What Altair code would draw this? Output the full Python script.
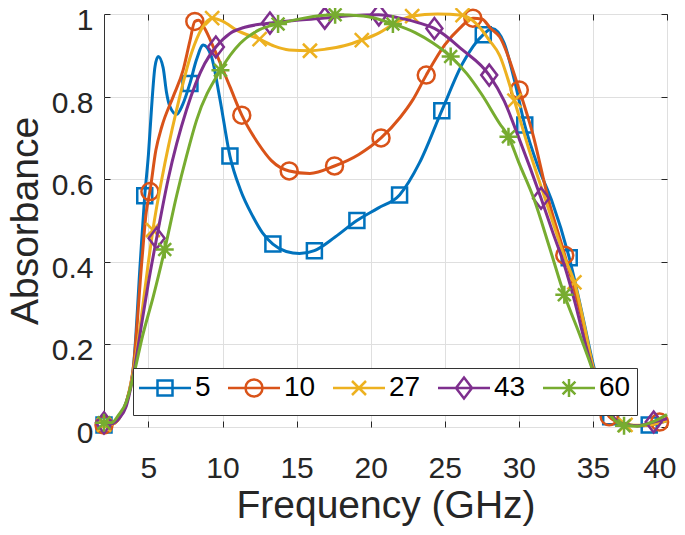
import altair as alt
import pandas as pd

# ---------------- data ----------------
series = ["5", "10", "27", "43", "60"]
colors = ["#0072BD", "#D95319", "#EDB120", "#7E2F8E", "#77AC30"]

# curve samples (frequency in GHz, absorbance)
f5 = [2, 2.5, 3, 3.5, 4, 4.45, 4.75, 5.0, 5.2, 5.44, 5.66, 5.99, 6.22, 6.45, 6.9, 7.3, 7.8, 8.24, 8.7, 9.25,
      9.82, 10.5, 11.2, 12.06, 12.7, 13.4, 14.3, 15.2, 16.2, 17.6, 19.07, 20.5, 21.95, 23.3, 24.8, 26.2, 27.6,
      28.2, 29.0, 29.7, 30.4, 31.3, 32.2, 33.4, 34.3, 35.1, 36.2, 37.0, 38.0, 38.8, 40]
a5 = [0.005, 0.006, 0.02, 0.06, 0.15, 0.4, 0.56, 0.66, 0.768, 0.872, 0.897, 0.87, 0.81, 0.776, 0.757, 0.78,
      0.832, 0.889, 0.925, 0.897, 0.795, 0.656, 0.575, 0.509, 0.47, 0.443, 0.425, 0.42, 0.427, 0.46, 0.5, 0.53,
      0.562, 0.64, 0.766, 0.88, 0.95, 0.965, 0.93, 0.84, 0.731, 0.63, 0.55, 0.41, 0.27, 0.14, 0.025, 0.01,
      0.003, 0.005, 0.015]

f10 = [2, 2.5, 3, 3.5, 4, 4.55, 4.85, 5.1, 5.5, 5.9, 6.67, 7.34, 7.8, 8.13, 8.4, 8.8, 9.37, 10.5, 11.3, 12.4,
       13.3, 14.5, 15.9, 17.56, 19.2, 20.7, 22.0, 22.84, 23.75, 25.0, 26.0, 26.9, 27.5, 28.1, 28.7, 30.03,
       30.93, 32.0, 33.1, 34.2, 35.0, 36.1, 37.0, 38.0, 39.0, 39.5, 40]
a10 = [0.005, 0.006, 0.02, 0.06, 0.15, 0.4, 0.52, 0.57, 0.67, 0.727, 0.8, 0.864, 0.935, 0.982, 0.985, 0.965,
       0.921, 0.824, 0.755, 0.687, 0.645, 0.62, 0.614, 0.632, 0.66, 0.7, 0.75, 0.792, 0.852, 0.925, 0.965,
       0.99, 0.988, 0.965, 0.945, 0.816, 0.711, 0.55, 0.416, 0.27, 0.146, 0.025, 0.008, 0.003, 0.006, 0.012,
       0.02]

f27 = [2, 2.5, 3, 3.5, 4, 4.5, 5.0, 5.3, 5.9, 6.9, 7.9, 8.6, 9.3, 10.0, 10.94, 12.5, 13.5, 14.5, 15.9, 17.0,
       18.2, 19.4, 20.6, 21.5, 22.8, 24.5, 26.2, 27.3, 28.0, 28.7, 29.7, 30.7, 31.8, 33.2, 33.75, 34.4, 35.0,
       36.0, 37.2, 38.5, 40]
a27 = [0.005, 0.006, 0.02, 0.055, 0.14, 0.26, 0.4, 0.477, 0.6, 0.768, 0.905, 0.965, 0.99, 0.983, 0.961,
       0.939, 0.922, 0.913, 0.911, 0.915, 0.923, 0.937, 0.955, 0.975, 0.995, 1.0, 0.997, 0.97, 0.937, 0.9,
       0.79, 0.67, 0.55, 0.4, 0.35, 0.25, 0.146, 0.04, 0.005, 0.004, 0.015]

f43 = [2, 2.5, 3, 3.5, 4, 4.5, 5.0, 5.55, 6.33, 7.57, 8.8, 9.55, 10.5, 11.5, 12.5, 13.2, 15.0, 16.9, 18.5,
       20.55, 22.0, 23.3, 24.3, 26.2, 28.0, 29.0, 30.0, 31.5, 32.3, 33.0, 33.8, 34.5, 35.3, 36.0, 37.0, 38.0,
       39.1, 40]
a43 = [0.01, 0.008, 0.02, 0.05, 0.13, 0.24, 0.35, 0.457, 0.6, 0.768, 0.88, 0.92, 0.953, 0.968, 0.975, 0.978,
       0.985, 0.99, 0.996, 0.998, 0.99, 0.978, 0.965, 0.913, 0.852, 0.79, 0.7, 0.554, 0.47, 0.4, 0.3, 0.2,
       0.105, 0.045, 0.008, 0.003, 0.012, 0.02]

f60 = [2, 2.5, 3, 3.5, 4, 4.6, 5.32, 6.1, 6.9, 7.6, 8.25, 9.86, 11.2, 12.5, 13.75, 15.5, 17.6, 19.5, 21.5,
       23.0, 24.2, 25.4, 26.5, 27.5, 28.7, 29.3, 30.0, 31.04, 32.05, 33.07, 34.07, 34.9, 35.7, 36.5, 37.1,
       38.0, 39.0, 40]
a60 = [0.01, 0.01, 0.03, 0.06, 0.125, 0.22, 0.315, 0.43, 0.56, 0.66, 0.743, 0.864, 0.929, 0.962, 0.976,
       0.99, 0.998, 0.995, 0.976, 0.955, 0.93, 0.897, 0.855, 0.805, 0.735, 0.703, 0.64, 0.55, 0.437, 0.32,
       0.227, 0.146, 0.06, 0.015, 0.003, 0.002, 0.012, 0.03]

# marker positions
mf5 = [2, 4.75, 7.8, 10.5, 13.4, 16.2, 19.07, 21.95, 24.8, 27.6, 30.4, 33.4, 36.2, 38.8]
ma5 = [0.005, 0.56, 0.832, 0.656, 0.443, 0.427, 0.5, 0.562, 0.766, 0.95, 0.731, 0.41, 0.025, 0.005]
mf10 = [2, 5.1, 8.13, 11.3, 14.5, 17.56, 20.7, 23.75, 26.9, 30.03, 33.1, 36.1, 39.5]
ma10 = [0.005, 0.57, 0.982, 0.755, 0.62, 0.632, 0.7, 0.852, 0.99, 0.816, 0.416, 0.025, 0.012]
mf27 = [2, 5.3, 9.3, 12.5, 15.9, 19.4, 22.8, 26.2, 29.7, 33.75, 37.2]
ma27 = [0.005, 0.477, 0.99, 0.939, 0.911, 0.937, 0.995, 0.997, 0.79, 0.35, 0.005]
mf43 = [2, 5.55, 9.55, 13.2, 16.9, 20.55, 24.3, 28.0, 31.5, 35.3, 39.1]
ma43 = [0.01, 0.457, 0.92, 0.978, 0.99, 0.998, 0.965, 0.852, 0.554, 0.105, 0.012]
mf60 = [2, 6.1, 9.86, 13.75, 17.6, 21.5, 25.4, 29.3, 33.07, 37.1]
ma60 = [0.01, 0.43, 0.864, 0.976, 0.998, 0.976, 0.897, 0.703, 0.32, 0.003]

x_ticks = [5, 10, 15, 20, 25, 30, 35, 40]
y_ticks = [0, 0.2, 0.4, 0.6, 0.8, 1]

# ---------------- styling ----------------
line_f = [f5, f10, f27, f43, f60]
line_a = [a5, a10, a27, a43, a60]
mark_f = [mf5, mf10, mf27, mf43, mf60]
mark_a = [ma5, ma10, ma27, ma43, ma60]

marker_paths = [
    "M-0.75,-0.75L0.75,-0.75L0.75,0.75L-0.75,0.75Z",
    "M0.85,0A0.85,0.85,0,1,1,-0.85,0A0.85,0.85,0,1,1,0.85,0Z",
    "M-0.7,-0.7L0.7,0.7M-0.7,0.7L0.7,-0.7",
    "M0,-1.05L0.8,0L0,1.05L-0.8,0Z",
    "M0,-0.9L0,0.9M-0.9,0L0.9,0M-0.64,-0.64L0.64,0.64M-0.64,0.64L0.64,-0.64",
]
legend_paths = ["M-2.6,0L2.6,0" + p + "M0,-1.6M0,1.6" for p in marker_paths]

FONT = "Liberation Sans"
INK = "#262626"

color_scale = alt.Scale(domain=series, range=colors)
x_scale = alt.Scale(domain=[2, 40], nice=False, zero=False)
y_scale = alt.Scale(domain=[0, 1], nice=False, zero=False)

tick_style = dict(offset=-6, tickSize=6, tickColor=INK, tickWidth=1, domain=False)

x_bottom = alt.Axis(
    orient="bottom", values=x_ticks, format="d", grid=True, gridColor="#dfdfdf", gridWidth=1,
    labelFont=FONT, labelFontSize=30, labelColor=INK, labelPadding=26, labelFlush=5,
    labelFlushOffset=9, labelOverlap=False,
    title="Frequency (GHz)", titleFont=FONT, titleFontSize=39, titleFontWeight="normal",
    titleColor=INK, titleX=281.5, titleY=96.5, titleAlign="center", titleBaseline="alphabetic",
    **tick_style)
y_left = alt.Axis(
    orient="left", values=y_ticks, format="~g", grid=True, gridColor="#dfdfdf", gridWidth=1,
    labelFont=FONT, labelFontSize=30, labelColor=INK, labelPadding=11, labelOffset=6.5,
    title="Absorbance", titleFont=FONT, titleFontSize=39, titleFontWeight="normal",
    titleColor=INK, titleX=-73, titleY=206.5, titleAngle=270, titleAlign="center",
    titleBaseline="alphabetic", **tick_style)
x_top = alt.Axis(orient="top", values=x_ticks, labels=False, grid=False, title=None, **tick_style)
y_right = alt.Axis(orient="right", values=y_ticks, labels=False, grid=False, title=None, **tick_style)

layers = []
for i, s in enumerate(series):
    df_line = pd.DataFrame({"series": s, "f": line_f[i], "a": line_a[i]})
    df_mark = pd.DataFrame({"series": s, "f": mark_f[i], "a": mark_a[i]})
    first = i == 0
    line = alt.Chart(df_line).mark_line(
        interpolate="monotone", strokeWidth=3, color=colors[i]
    ).encode(
        x=alt.X("f:Q", scale=x_scale, axis=x_bottom if first else None),
        y=alt.Y("a:Q", scale=y_scale, axis=y_left if first else None),
    )
    pts = alt.Chart(df_mark).mark_point(
        shape=marker_paths[i], filled=False, size=400, strokeWidth=2.5, opacity=1, color=colors[i]
    ).encode(
        x=alt.X("f:Q", scale=x_scale, axis=None),
        y=alt.Y("a:Q", scale=y_scale, axis=None),
    )
    layers += [line, pts]

leg = alt.Legend(
    title=None, orient="none", legendX=29, legendY=354, direction="horizontal",
    fillColor="white", strokeColor="#333333", padding=6, columnPadding=12,
    labelFont=FONT, labelFontSize=28, labelColor="black", labelOffset=16,
    symbolOffset=12, symbolSize=400, symbolStrokeWidth=2.5,
)
df_leg = pd.DataFrame({"series": series, "f": [2] * 5, "a": [0] * 5})
legend_layer = alt.Chart(df_leg).transform_filter("false").mark_point(
    filled=False, size=400, strokeWidth=2.5, opacity=1
).encode(
    x=alt.X("f:Q", scale=x_scale, axis=x_top),
    y=alt.Y("a:Q", scale=y_scale, axis=y_right),
    color=alt.Color("series:N", scale=color_scale, legend=leg),
    shape=alt.Shape("series:N", scale=alt.Scale(domain=series, range=legend_paths), legend=leg),
)

chart = alt.layer(*layers, legend_layer).resolve_axis(
    x="independent", y="independent"
).properties(
    width=563, height=413,
    autosize=alt.AutoSizeParams(type="none"),
    padding={"left": 96, "top": 6, "right": 9, "bottom": 99},
).configure_view(stroke="#333333", strokeWidth=1)

chart.save("out.html", embed_options={"renderer": "svg", "actions": False})
